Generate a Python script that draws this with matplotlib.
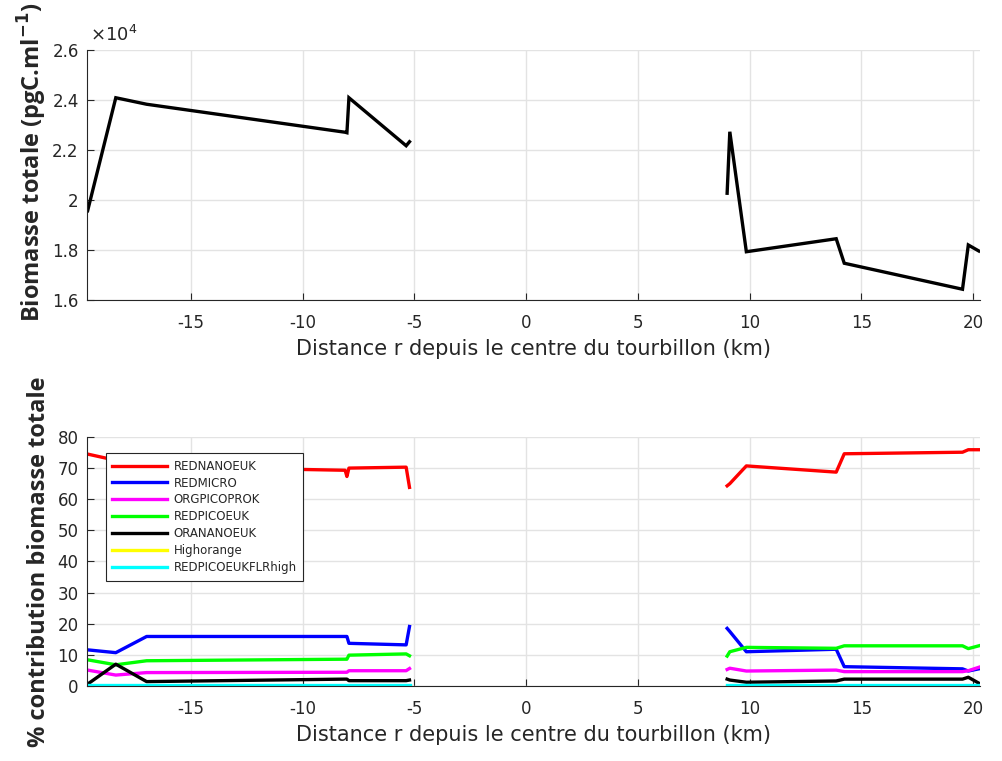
import numpy as np
import matplotlib
matplotlib.use("Agg")
import matplotlib.pyplot as plt

# Sampling positions (km from eddy centre), two transect segments
x_west = [-19.62, -18.36, -16.98, -8.10, -8.02, -7.93, -5.37, -5.22]
x_east = [8.99, 9.11, 9.85, 13.87, 14.23, 19.52, 19.78, 20.25]

# Total biomass (x 1e4 pgC/ml)
total_west = [1.957, 2.409, 2.383, 2.271, 2.269, 2.409, 2.217, 2.233]
total_east = [2.027, 2.273, 1.793, 1.845, 1.747, 1.643, 1.820, 1.796]

# Percentage contribution of each group to total biomass
groups = ["REDNANOEUK", "REDMICRO", "ORGPICOPROK", "REDPICOEUK",
          "ORANANOEUK", "Highorange", "REDPICOEUKFLRhigh"]
colors = ["#ff0000", "#0000ff", "#ff00ff", "#00ff00", "#000000", "#ffff00", "#00ffff"]

pct_west = {
    "REDNANOEUK":        [74.5, 72.5, 70.5, 69.3, 67.3, 70.0, 70.3, 63.8],
    "REDMICRO":          [11.6, 10.7, 15.9, 15.9, 15.9, 13.7, 13.2, 19.1],
    "ORGPICOPROK":       [5.1, 3.5, 4.3, 4.4, 4.4, 4.9, 4.9, 5.6],
    "REDPICOEUK":        [8.4, 6.8, 8.1, 8.6, 8.6, 9.9, 10.3, 9.7],
    "ORANANOEUK":        [0.6, 7.0, 1.4, 2.2, 2.2, 1.7, 1.7, 1.9],
    "Highorange":        [0.05, 0.05, 0.05, 0.05, 0.05, 0.05, 0.05, 0.05],
    "REDPICOEUKFLRhigh": [0.2, 0.2, 0.2, 0.2, 0.2, 0.2, 0.2, 0.2],
}
pct_east = {
    "REDNANOEUK":        [64.3, 65.0, 70.7, 68.7, 74.6, 75.1, 75.9, 75.9],
    "REDMICRO":          [18.5, 17.5, 11.0, 11.8, 6.2, 5.5, 4.8, 5.5],
    "ORGPICOPROK":       [5.3, 5.7, 4.8, 5.1, 4.6, 4.6, 4.9, 6.0],
    "REDPICOEUK":        [9.6, 11.0, 12.4, 12.1, 12.9, 12.9, 12.0, 12.9],
    "ORANANOEUK":        [2.2, 1.9, 1.2, 1.6, 2.2, 2.2, 2.8, 0.9],
    "Highorange":        [0.05, 0.05, 0.05, 0.05, 0.05, 0.05, 0.05, 0.05],
    "REDPICOEUKFLRhigh": [0.2, 0.2, 0.2, 0.2, 0.2, 0.2, 0.2, 0.2],
}

xticks = [-15, -10, -5, 0, 5, 10, 15, 20]
xlabel = "Distance r depuis le centre du tourbillon (km)"

AX_COLOR = "#262626"
GRID_COLOR = "#e3e3e3"

plt.rcParams["font.family"] = ["DejaVu Sans"]


def joined(a, b):
    return np.concatenate([np.asarray(a, float), [np.nan], np.asarray(b, float)])


x_all = joined(x_west, x_east)

fig = plt.figure(figsize=(10.03, 7.61), dpi=100)
ax1 = fig.add_axes([0.0867, 0.6058, 0.8903, 0.3285])
ax2 = fig.add_axes([0.0867, 0.0986, 0.8903, 0.3272])


def style(ax):
    for side in ("top", "right"):
        ax.spines[side].set_visible(False)
    for side in ("left", "bottom"):
        ax.spines[side].set_color(AX_COLOR)
        ax.spines[side].set_linewidth(0.8)
    ax.tick_params(direction="in", length=5, width=0.8, colors=AX_COLOR,
                   labelsize=12)
    ax.tick_params(axis="x", pad=10)
    ax.tick_params(axis="y", pad=6)
    ax.grid(True, color=GRID_COLOR, linewidth=1.0)
    ax.set_axisbelow(True)
    ax.set_xlim(-19.65, 20.3)
    ax.set_xticks(xticks)
    ax.set_xticklabels([str(t) for t in xticks])
    ax.set_xlabel(xlabel, fontsize=15, color=AX_COLOR, labelpad=5)


# Top panel: total biomass
ax1.plot(x_all, joined(total_west, total_east), color="black", linewidth=2.4,
         solid_joinstyle="miter")
ax1.set_ylim(1.6, 2.6)
ax1.set_yticks([1.6, 1.8, 2.0, 2.2, 2.4, 2.6])
ax1.set_yticklabels(["1.6", "1.8", "2", "2.2", "2.4", "2.6"])
style(ax1)
ax1.set_ylabel("Biomasse totale (pgC.ml$^{\\mathbf{-1}}$)", fontsize=17,
               fontweight="bold", family="Open Sans", color=AX_COLOR)
ax1.yaxis.set_label_coords(-0.042, 0.55)
ax1.text(0.003, 1.02, "$\\times$10$^{4}$", transform=ax1.transAxes,
         fontsize=13, color=AX_COLOR, ha="left", va="bottom")

# Bottom panel: percent contribution by group
for name, col in zip(groups, colors):
    ax2.plot(x_all, joined(pct_west[name], pct_east[name]), color=col,
             linewidth=2.4, label=name)
ax2.set_ylim(0, 80)
ax2.set_yticks(range(0, 81, 10))
style(ax2)
ax2.set_ylabel("% contribution biomasse totale", fontsize=17,
               fontweight="bold", family="Open Sans", color=AX_COLOR, labelpad=5)
leg = ax2.legend(loc="upper left", bbox_to_anchor=(0.021, 0.935), fontsize=8.5,
                 frameon=True, fancybox=False, framealpha=1.0,
                 edgecolor="#262626", borderaxespad=0.0,
                 handlelength=4.6, handletextpad=0.6, borderpad=0.55,
                 labelspacing=0.33)
leg.get_frame().set_linewidth(0.8)
for t in leg.get_texts():
    t.set_color(AX_COLOR)

fig.savefig("out.png", dpi=100)
